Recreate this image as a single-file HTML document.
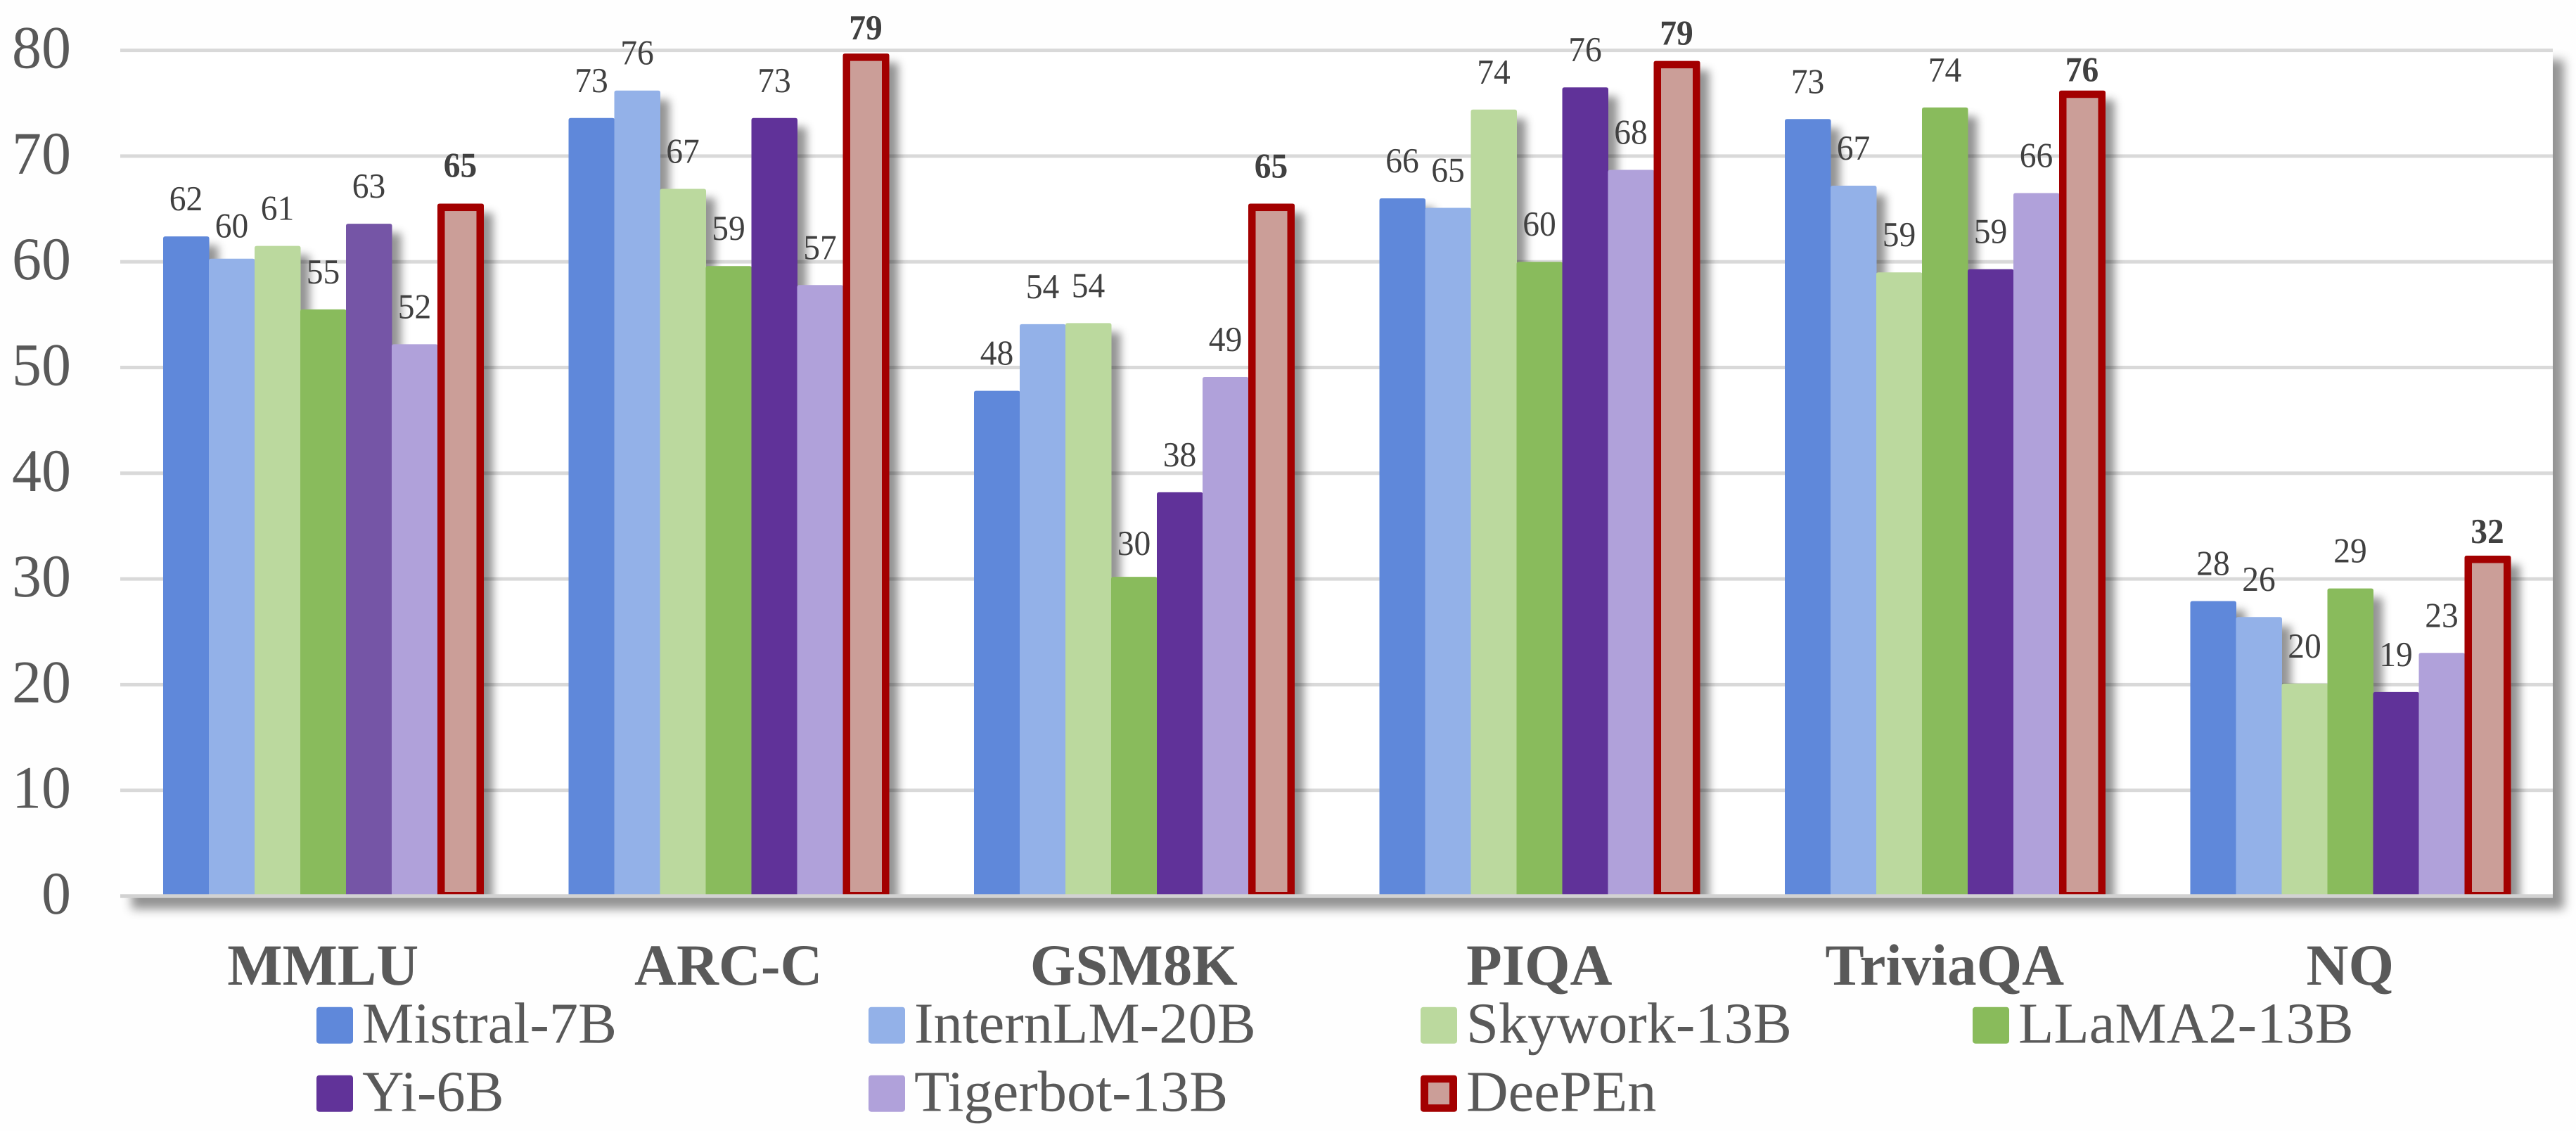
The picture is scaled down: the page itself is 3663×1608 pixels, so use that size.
<!DOCTYPE html>
<html lang="en">
<head>
<meta charset="utf-8">
<title>Benchmark comparison bar chart</title>
<style>
  html, body { margin: 0; padding: 0; background: #fefefe; }
  body { width: 3663px; height: 1608px; overflow: hidden; }
  svg { display: block; }
  text { font-family: "Liberation Serif", serif; text-rendering: geometricPrecision; }
</style>
</head>
<body>
<svg id="chart" xmlns="http://www.w3.org/2000/svg" width="3663" height="1608" viewBox="0 0 3663 1608">
  <defs>
    <filter id="plot-shadow" x="-2%" y="-5%" width="104%" height="110%">
      <feDropShadow dx="16" dy="16" stdDeviation="7" flood-color="#000" flood-opacity="0.42"/>
    </filter>
    <filter id="bar-shadow" x="-60%" y="-10%" width="220%" height="120%">
      <feDropShadow dx="13" dy="13" stdDeviation="6" flood-color="#000" flood-opacity="0.42"/>
    </filter>
    <clipPath id="bars-clip"><rect x="171" y="0" width="3459" height="1272"/></clipPath>
  </defs>
  <rect x="171" y="69" width="3459" height="1207.5" fill="#ffffff" filter="url(#plot-shadow)"/>
  <g id="grid"></g>
  <g id="bars" clip-path="url(#bars-clip)"></g>
  <rect x="171" y="1271.3" width="3459" height="5.4" fill="#d2d2d2"/>
  <g id="y-ticks"></g>
  <g id="x-ticks"></g>
  <g id="value-labels"></g>
  <g id="legend"></g>
</svg>
<script>
const categories = ["MMLU", "ARC-C", "GSM8K", "PIQA", "TriviaQA", "NQ"];
const yTickValues = [0, 10, 20, 30, 40, 50, 60, 70, 80];

const seriesNames = ["Mistral-7B", "InternLM-20B", "Skywork-13B", "LLaMA2-13B", "Yi-6B", "Tigerbot-13B", "DeePEn"];

const mistralValues  = [62.4, 73.6, 47.8, 66.0, 73.5, 27.9];
const internlmValues = [60.3, 76.2, 54.1, 65.1, 67.2, 26.4];
const skyworkValues  = [61.5, 66.9, 54.2, 74.4, 59.0, 20.1];
const llamaValues    = [55.5, 59.6, 30.2, 60.0, 74.6, 29.1];
const yiValues       = [63.6, 73.6, 38.2, 76.5, 59.3, 19.3];
const tigerbotValues = [52.2, 57.8, 49.1, 68.7, 66.5, 23.0];
const deepenValues   = [65.5, 79.7, 65.5, 79.0, 76.2, 32.2];

const mistralLabels  = [62, 73, 48, 66, 73, 28];
const internlmLabels = [60, 76, 54, 65, 67, 26];
const skyworkLabels  = [61, 67, 54, 74, 59, 20];
const llamaLabels    = [55, 59, 30, 60, 74, 29];
const yiLabels       = [63, 73, 38, 76, 59, 19];
const tigerbotLabels = [52, 57, 49, 68, 66, 23];
const deepenLabels   = [65, 79, 65, 79, 76, 32];

const allValues = [mistralValues, internlmValues, skyworkValues, llamaValues, yiValues, tigerbotValues, deepenValues];
const allLabels = [mistralLabels, internlmLabels, skyworkLabels, llamaLabels, yiLabels, tigerbotLabels, deepenLabels];

const NS = "http://www.w3.org/2000/svg";
const seriesColors = ["#5f88da", "#93b1e8", "#bbd99e", "#89bb5b", "#613399", "#b0a1da", "#cb9e98"];
const deepenStroke = "#a30000";
const yiFirstPointColor = "#7554a6";

const plotLeft = 171, plotRight = 3630, zeroY = 1274, pxPerUnit = 15.03;
const barBase = 1271.5, barWidth = 65, groupInset = 61;
const labelGap = 37;
const labelGapOverrides = { "1:0": 30, "3:2": 31, "6:0": 38, "6:1": 20, "6:3": 23, "6:4": 13, "6:5": 18 };

function yScale(v) { return zeroY - v * pxPerUnit; }
function groupX(i) { return plotLeft + (plotRight - plotLeft) / categories.length * i; }
function barX(g, s) { return groupX(g) + groupInset + s * barWidth; }

function mk(tag, attrs, parent, txt) {
  const el = document.createElementNS(NS, tag);
  for (const k in attrs) el.setAttribute(k, attrs[k]);
  if (txt !== undefined) el.textContent = txt;
  parent.appendChild(el);
  return el;
}
function topRounded(x, y, w, bottom, r) {
  return "M" + x + " " + bottom + "V" + (y + r) + "Q" + x + " " + y + " " + (x + r) + " " + y +
         "H" + (x + w - r) + "Q" + (x + w) + " " + y + " " + (x + w) + " " + (y + r) + "V" + bottom + "Z";
}

const gridG = document.getElementById("grid");
const barsG = document.getElementById("bars");
const yG = document.getElementById("y-ticks");
const xG = document.getElementById("x-ticks");
const valG = document.getElementById("value-labels");
const legendG = document.getElementById("legend");

yTickValues.forEach(function (t) {
  if (t !== 0) {
    const line = mk("rect", { x: plotLeft, y: yScale(t) - 2.5, width: plotRight - plotLeft, height: 5, fill: "#d9d9d9" }, gridG);
    
    
  }
  const label = mk("text", { x: 101, y: yScale(t) + 25, "text-anchor": "end", "font-size": 86, fill: "#595959", textLength: String(t).length * 42, lengthAdjust: "spacingAndGlyphs" }, yG, String(t));
  
  
});

categories.forEach(function (cat, g) {
  const label = mk("text", { x: groupX(g) + (plotRight - plotLeft) / categories.length / 2, y: 1400, "text-anchor": "middle", "font-size": 83, "font-weight": "bold", fill: "#595959" }, xG, cat);
  
  
});

categories.forEach(function (cat, g) {
  allValues.forEach(function (vals, s) {
    const x = barX(g, s), top = yScale(vals[g]);
    let color = seriesColors[s];
    if (s === 4 && g === 0) color = yiFirstPointColor;
    const isDeepen = s === 6;
    const bar = mk("path", { d: topRounded(x, top, barWidth + (isDeepen ? 1 : 0.5), barBase, 3), fill: isDeepen ? deepenStroke : color, filter: "url(#bar-shadow)" }, barsG);
    
    
    if (isDeepen) {
      const inner = mk("rect", { x: x + 10.5, y: top + 10.5, width: barWidth - 20, height: Math.max(0, barBase - top - 14), fill: color }, barsG);
      
      
    }
  });
});

categories.forEach(function (cat, g) {
  allValues.forEach(function (vals, s) {
    const key = s + ":" + g;
    const gap = key in labelGapOverrides ? labelGapOverrides[key] : labelGap;
    const label = mk("text", { x: barX(g, s) + barWidth / 2, y: yScale(vals[g]) - gap, "text-anchor": "middle", "font-size": 50, "font-weight": s === 6 ? "bold" : "normal", fill: "#404040", textLength: 47.5, lengthAdjust: "spacingAndGlyphs" }, valG, String(allLabels[s][g]));
    
    
  });
});

const legendColumnX = [450, 1235, 2020, 2805];
const legendRowY = [1431.7, 1528.7];
seriesNames.forEach(function (name, s) {
  const col = s < 4 ? s : s - 4, row = s < 4 ? 0 : 1;
  const x = legendColumnX[col], y = legendRowY[row];
  const item = mk("g", {}, legendG);
  
  
  const swatch = mk("rect", { x: x, y: y, width: 52, height: 52, rx: 4, fill: s === 6 ? deepenStroke : seriesColors[s] }, item);
  
  
  if (s === 6) {
    const inner = mk("rect", { x: x + 11, y: y + 10.5, width: 30, height: 31, fill: seriesColors[s] }, item);
    
    
  }
  const label = mk("text", { x: x + 65, y: y + 51, "font-size": 82.5, fill: "#595959" }, item, name);
  
  
});
</script>
</body>
</html>
